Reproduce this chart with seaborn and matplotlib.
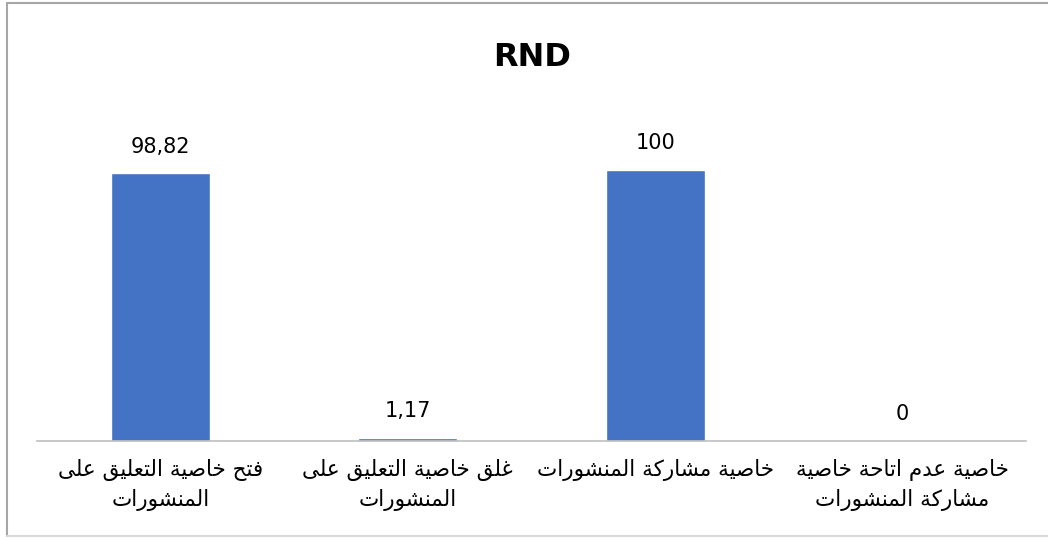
import numpy as np
import pandas as pd
import matplotlib
matplotlib.use("Agg")
import matplotlib.pyplot as plt
from matplotlib.lines import Line2D
import seaborn as sns

# Chart data
title = "RND"
categories = [
    "فتح خاصية التعليق على\nالمنشورات",
    "غلق خاصية التعليق على\nالمنشورات",
    "خاصية مشاركة المنشورات",
    "خاصية عدم اتاحة خاصية\nمشاركة المنشورات",
]
values = [98.82, 1.17, 100, 0]

# matplotlib has no arabic shaping, so pick the presentation forms by hand
# letter -> (isolated form code point, joins to the following letter)
AR_FORMS = {
    'ا': (0xFE8D, False), 'ة': (0xFE93, False), 'ت': (0xFE95, True),
    'ح': (0xFEA1, True), 'خ': (0xFEA5, True), 'د': (0xFEA9, False),
    'ر': (0xFEAD, False), 'ش': (0xFEB5, True), 'ص': (0xFEB9, True),
    'ع': (0xFEC9, True), 'غ': (0xFECD, True), 'ف': (0xFED1, True),
    'ق': (0xFED5, True), 'ك': (0xFED9, True), 'ل': (0xFEDD, True),
    'م': (0xFEE1, True), 'ن': (0xFEE5, True), 'و': (0xFEED, False),
    'ى': (0xFEEF, False), 'ي': (0xFEF1, True),
}


def shape_line(s):
    out = []
    for i, ch in enumerate(s):
        if ch not in AR_FORMS:
            out.append(ch)
            continue
        base, dual = AR_FORMS[ch]
        prev = s[i - 1] if i > 0 else ''
        nxt = s[i + 1] if i + 1 < len(s) else ''
        from_prev = prev in AR_FORMS and AR_FORMS[prev][1]
        to_next = dual and nxt in AR_FORMS
        if from_prev and to_next:
            off = 3
        elif to_next:
            off = 2
        elif from_prev:
            off = 1
        else:
            off = 0
        out.append(chr(base + off))
    # visual order, right to left
    return ''.join(reversed(out))


def shape(s):
    return "\n".join(shape_line(line) for line in s.split("\n"))


shaped = [shape(c) for c in categories]
df = pd.DataFrame({"cat": shaped, "val": values})

sns.set_style("white")
plt.rcParams['font.family'] = ['DejaVu Sans']
plt.rcParams['text.color'] = 'black'
plt.rcParams['xtick.color'] = 'black'

W, H = 1048, 538
fig = plt.figure(figsize=(W / 100, H / 100), dpi=100)
ax = fig.add_axes([37 / W, 1 - 441 / H, (1026 - 37) / W, 325 / H])

sns.barplot(data=df, x="cat", y="val", color="#4472C4", width=0.4,
            saturation=1, ax=ax)
ax.set_ylim(0, 120)
ax.set_xlim(-0.5, 3.5)
ax.set_xlabel("")
ax.set_ylabel("")
ax.set_yticks([])
for s in ["top", "left", "right"]:
    ax.spines[s].set_visible(False)
ax.spines["bottom"].set_color("#BFBFBF")
ax.spines["bottom"].set_linewidth(1.2)
ax.tick_params(axis="x", length=0, pad=13, colors="black")
ax.set_xticks(range(len(shaped)))
ax.set_xticklabels(shaped, fontsize=15.5, linespacing=1.45, color="black")

val_labels = [f"{v:g}".replace(".", ",") for v in values]
ax.bar_label(ax.containers[0], labels=val_labels, padding=12,
             fontsize=15, color="black")

fig.text(532 / W, 1 - 57 / H, title, ha="center", va="center",
         fontsize=23, fontweight="bold", color="black")

# outer chart border
fig.add_artist(Line2D([7 / W, 7 / W], [1 - 3 / H, 1 - 536 / H],
                      color="#A6A6A6", lw=1.5))
fig.add_artist(Line2D([7 / W, 1.0], [1 - 3 / H, 1 - 3 / H],
                      color="#A6A6A6", lw=1.5))
fig.add_artist(Line2D([7 / W, 1.0], [1 - 536 / H, 1 - 536 / H],
                      color="#D9D9D9", lw=1.5))

fig.savefig("out.png", dpi=100)
